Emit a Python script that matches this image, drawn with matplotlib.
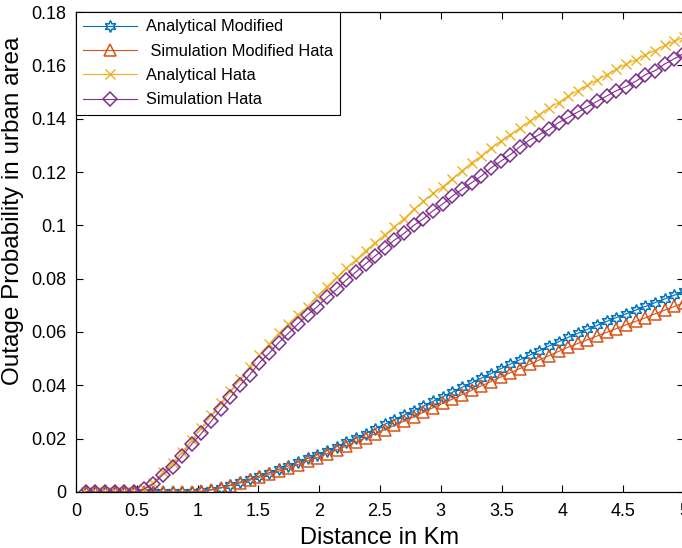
import matplotlib
matplotlib.use("Agg")
import matplotlib.pyplot as plt
import numpy as np

plt.rcParams['font.family'] = ['Liberation Sans', 'DejaVu Sans']

# distance grid (km), 63 samples up to 5 km
distance = np.linspace(5 / 63, 5, 63)

analytical_modified = [
    0, 0, 0, 0, 0, 0, 0, 0, 0, 0, 0, 0,
    0.0002, 0.0008, 0.0016, 0.0026, 0.0037, 0.0048, 0.0060, 0.0072, 0.0085, 0.0098,
    0.0112, 0.0126, 0.0140, 0.0155, 0.0170, 0.0186, 0.0202, 0.0218, 0.0237, 0.0254,
    0.0271, 0.0288, 0.0305, 0.0322, 0.0340, 0.0357, 0.0374, 0.0392, 0.0409, 0.0427,
    0.0444, 0.0462, 0.0479, 0.0496, 0.0513, 0.0530, 0.0547, 0.0563, 0.0580, 0.0595,
    0.0610, 0.0625, 0.0640, 0.0654, 0.0668, 0.0682, 0.0696, 0.0710, 0.0724, 0.0738,
    0.0752,
]

simulation_modified = [
    0, 0, 0, 0, 0, 0, 0, 0, 0, 0, 0, 0,
    0.0003, 0.0008, 0.0015, 0.0024, 0.0034, 0.0044, 0.0055, 0.0066, 0.0078, 0.0090,
    0.0103, 0.0116, 0.0129, 0.0143, 0.0157, 0.0172, 0.0187, 0.0202, 0.0218, 0.0234,
    0.0250, 0.0266, 0.0282, 0.0299, 0.0316, 0.0332, 0.0348, 0.0365, 0.0381, 0.0398,
    0.0414, 0.0431, 0.0447, 0.0463, 0.0479, 0.0495, 0.0511, 0.0527, 0.0543, 0.0557,
    0.0571, 0.0585, 0.0599, 0.0613, 0.0627, 0.0640, 0.0653, 0.0668, 0.0682, 0.0696,
    0.0710,
]

analytical_hata = [
    0, 0, 0, 0, 0, 0,
    0.0012, 0.0035, 0.0075, 0.0110, 0.0150, 0.0195, 0.0240, 0.0288, 0.0333, 0.0380,
    0.0425, 0.0470, 0.0515, 0.0555, 0.0595, 0.0630, 0.0665, 0.0695, 0.0735, 0.0770,
    0.0805, 0.0840, 0.0870, 0.0905, 0.0935, 0.0965, 0.0995, 0.1025, 0.1060, 0.1090,
    0.1120, 0.1145, 0.1175, 0.1205, 0.1235, 0.1260, 0.1290, 0.1315, 0.1340, 0.1365,
    0.1390, 0.1415, 0.1440, 0.1460, 0.1485, 0.1505, 0.1525, 0.1545, 0.1565, 0.1585,
    0.1605, 0.1620, 0.1640, 0.1655, 0.1675, 0.1690, 0.1705,
]

simulation_hata = [
    0, 0, 0, 0, 0, 0,
    0.0010, 0.0030, 0.0065, 0.0095, 0.0135, 0.0180, 0.0220, 0.0265, 0.0310, 0.0355,
    0.0400, 0.0440, 0.0485, 0.0520, 0.0560, 0.0595, 0.0630, 0.0665, 0.0695, 0.0730,
    0.0760, 0.0795, 0.0825, 0.0855, 0.0885, 0.0915, 0.0945, 0.0970, 0.1000, 0.1025,
    0.1055, 0.1080, 0.1110, 0.1135, 0.1160, 0.1185, 0.1215, 0.1240, 0.1265, 0.1295,
    0.1320, 0.1340, 0.1360, 0.1385, 0.1405, 0.1425, 0.1445, 0.1465, 0.1485, 0.1505,
    0.1520, 0.1540, 0.1565, 0.1580, 0.1605, 0.1625, 0.1645,
]

labels = ['Analytical Modified', ' Simulation Modified Hata', 'Analytical Hata', 'Simulation Hata']
colors = ['#0072BD', '#D95319', '#EDB120', '#7E2F8E']

fig = plt.figure(figsize=(6.82, 5.48), dpi=100)
ax = fig.add_axes([76 / 682, 1 - 492 / 548, 608 / 682, 480 / 548])

star6 = (6, 1, 0)
ax.plot(distance, analytical_modified, color=colors[0], marker=star6, markersize=8.5,
        mfc='none', mew=1.1, lw=0.8, label=labels[0])
ax.plot(distance, simulation_modified, color=colors[1], marker='^', markersize=8,
        mfc='none', mew=1.1, lw=0.8, label=labels[1])
ax.plot(distance, analytical_hata, color=colors[2], marker='x', markersize=6.5,
        mfc='none', mew=1.0, lw=0.8, label=labels[2])
ax.plot(distance, simulation_hata, color=colors[3], marker='D', markersize=7.5,
        mfc='none', mew=1.1, lw=0.8, label=labels[3])

ax.set_xlim(0, 5)
ax.set_ylim(0, 0.18)
ax.set_xticks(np.arange(0, 5.01, 0.5))
ax.set_xticklabels(['0', '0.5', '1', '1.5', '2', '2.5', '3', '3.5', '4', '4.5', '5'])
ax.set_yticks(np.arange(0, 0.181, 0.02))
ax.set_yticklabels(['0', '0.02', '0.04', '0.06', '0.08', '0.1', '0.12', '0.14', '0.16', '0.18'])
ax.tick_params(direction='in', top=True, right=True, length=5, width=0.8, labelsize=13)
ax.tick_params(axis='x', pad=8)
ax.tick_params(axis='y', pad=7)
for s in ax.spines.values():
    s.set_linewidth(0.9)

ax.set_xlabel('Distance in Km', fontsize=17, labelpad=5)
ax.set_ylabel('Outage Probability in urban area', fontsize=17.5)
ax.yaxis.set_label_coords(-0.086, 0.585)

leg = ax.legend(loc='upper left', borderaxespad=0, fontsize=11.8, fancybox=False,
                framealpha=1, edgecolor='black', handlelength=3.3, labelspacing=0.57,
                borderpad=0.45, handletextpad=0.5)
leg.get_frame().set_linewidth(0.8)

plt.savefig('out.png', dpi=100)
